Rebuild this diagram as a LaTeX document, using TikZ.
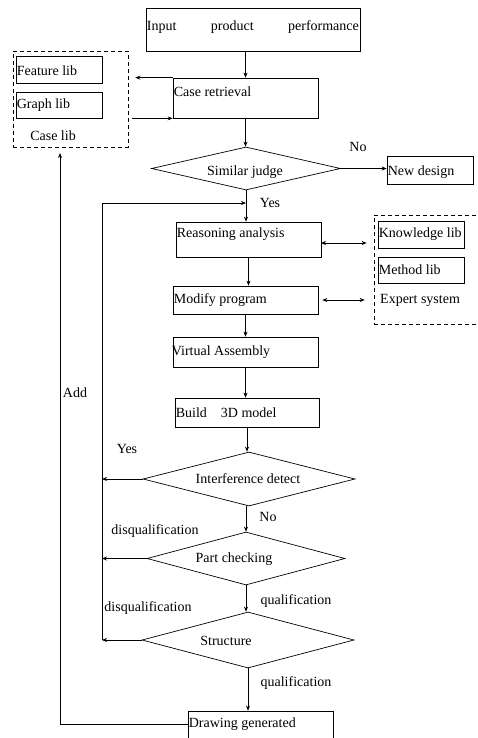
\documentclass[tikz,border=0pt]{standalone}
\usepackage{fontspec}
\setmainfont{Liberation Serif}
\usetikzlibrary{shapes.geometric,arrows.meta}
\tikzset{
  flowbox/.style={draw, line width=0.7pt, inner sep=0pt},
  libbox/.style={draw, line width=0.7pt, inner sep=0pt, minimum width=86pt},
  judge/.style={draw, diamond, line width=0.7pt, inner sep=0pt},
  libframe/.style={draw, dash pattern=on 4pt off 3pt, line width=0.7pt, inner sep=0pt},
  txt/.style={inner sep=0pt, font=\fontsize{14}{16}\selectfont},
  flow/.style={line width=0.7pt, -{Stealth[length=5pt,width=4pt]}},
  both/.style={line width=0.7pt, {Stealth[length=5pt,width=4pt]}-{Stealth[length=5pt,width=4pt]}}
}

\begin{document}
\begin{tikzpicture}[x=1pt, y=-1pt]
  \useasboundingbox (0,0) rectangle (478,738);
  % main column
  \node[flowbox, minimum width=214pt, minimum height=43pt] (input) at (253,29.5) {};
  \node[txt, anchor=west, text width=212pt] (inputtxt) at ([xshift=1pt,yshift=-19pt]input.north west) {Input\hfill product\hfill performance};
  \node[flowbox, minimum width=145pt, minimum height=40pt] (retr) at (245.5,98) {};
  \node[txt, anchor=west] (retrtxt) at ([xshift=1pt,yshift=-14pt]retr.north west) {Case retrieval};
  \node[judge, minimum width=189pt, minimum height=43pt] (sim) at (246,168.5) {};
  \node[txt] (simtxt) at (245,172) {Similar judge};
  \node[flowbox, minimum width=86pt, minimum height=28pt] (newd) at (430,170) {};
  \node[txt, anchor=west] (newdtxt) at ([xshift=1pt,yshift=-2pt]newd.west) {New design};
  \node[flowbox, minimum width=145pt, minimum height=35pt] (reas) at (248.5,239.5) {};
  \node[txt, anchor=west] (reastxt) at ([xshift=1pt,yshift=-13pt]reas.north west) {Reasoning analysis};
  \node[flowbox, minimum width=145pt, minimum height=28pt] (mod) at (245.5,300) {};
  \node[txt, anchor=west] (modtxt) at ([xshift=1pt]mod.west) {Modify program};
  \node[flowbox, minimum width=145pt, minimum height=30pt] (virt) at (245.5,352) {};
  \node[txt, anchor=west] (virttxt) at ([xshift=-1pt]virt.west) {Virtual Assembly};
  \node[flowbox, minimum width=144pt, minimum height=29pt] (build) at (247,412.5) {};
  \node[txt, anchor=west] (buildtxt) at ([xshift=1pt]build.west) {Build\hspace{14pt}3D model};
  \node[judge, minimum width=212pt, minimum height=54pt] (intf) at (249,479) {};
  \node[txt] (intftxt) at (248,479) {Interference detect};
  \node[judge, minimum width=198pt, minimum height=53pt] (part) at (246,558.5) {};
  \node[txt] (parttxt) at (234,559) {Part checking};
  \node[judge, minimum width=212pt, minimum height=56pt] (struct) at (248,640) {};
  \node[txt] (structtxt) at (226,641) {Structure};
  \node[flowbox, minimum width=145pt, minimum height=40pt] (draw) at (260.5,731) {};
  \node[txt, anchor=west] (drawtxt) at ([xshift=1pt,yshift=-13pt]draw.north west) {Drawing generated};

  % case lib
  \node[libframe, minimum width=115pt, minimum height=96pt] (caselib) at (70.5,99) {};
  \node[libbox, minimum height=27pt] (feat) at (59,69.5) {};
  \node[txt, anchor=west] (feattxt) at ([xshift=1pt,yshift=-1pt]feat.west) {Feature lib};
  \node[libbox, minimum height=26pt] (graph) at (59,105) {};
  \node[txt, anchor=west] (graphtxt) at ([xshift=1pt]graph.west) {Graph lib};
  \node[txt] (caselibtxt) at (53,136) {Case lib};

  % expert system
  \node[libframe, minimum width=112pt, minimum height=109pt] (expsys) at (430,269.5) {};
  \node[libbox, minimum height=27pt] (know) at (421,234.5) {};
  \node[txt, anchor=west] (knowtxt) at ([xshift=1pt]know.west) {Knowledge lib};
  \node[libbox, minimum height=26pt] (meth) at (421,270) {};
  \node[txt, anchor=west] (methtxt) at ([xshift=1pt]meth.west) {Method lib};
  \node[txt, anchor=west] (exptxt) at (380,300) {Expert system};

  \coordinate (loop) at (102,203);
  \coordinate (addx) at (60,147);
  \coordinate (reasout) at (321,243);

  % connectors
  \draw[flow] (input.south -| retr.north) -- (retr.north);
  \draw[flow, shorten >=7pt] (retr.north west) -- (retr.north west -| caselib.east);
  \draw[flow, shorten <=4pt] (retr.south west -| caselib.east) -- (retr.south west);
  \draw[flow] (retr.south) -- (retr.south |- sim.north);
  \draw[flow] (sim.east) -- (sim.east -| newd.west);
  \draw[flow] (sim.south) -- (sim.south |- reas.north);
  \draw[both, shorten >=7pt] (reasout) -- (reasout -| expsys.west);
  \draw[both, shorten <=4pt, shorten >=9pt] (mod.east) -- (mod.east -| expsys.west);
  \draw[flow] (reas.south) -- (reas.south |- mod.north);
  \draw[flow] (mod.south) -- (mod.south |- virt.north);
  \draw[flow] (virt.south) -- (virt.south |- build.north);
  \draw[flow] (build.south) -- (build.south |- intf.north);
  \draw[flow] (part.north |- intf.south) -- (part.north);
  \draw[flow] (part.south) -- (part.south |- struct.north);
  \draw[flow] (struct.south) -- (struct.south |- draw.north);
  \draw[flow] (loop |- struct.west) -- (loop) -- (loop -| sim.south);
  \draw[flow] (intf.west) -- (intf.west -| loop);
  \draw[flow] (part.west) -- (part.west -| loop);
  \draw[flow] (struct.west) -- (struct.west -| loop);
  \draw[flow, shorten >=6pt] ([yshift=7pt]draw.west) -| (addx);

  % labels
  \node[txt] (simno) at (358,147) {No};
  \node[txt] (simyes) at (270,203) {Yes};
  \node[txt] (intfyes) at (127,449) {Yes};
  \node[txt] (intfno) at (268,517) {No};
  \node[txt] (partdis) at (155,531) {disqualification};
  \node[txt] (partq) at (296,601) {qualification};
  \node[txt] (structdis) at (148,608) {disqualification};
  \node[txt] (structq) at (296,683) {qualification};
  \node[txt] (add) at (75,393) {Add};
\end{tikzpicture}
\end{document}
